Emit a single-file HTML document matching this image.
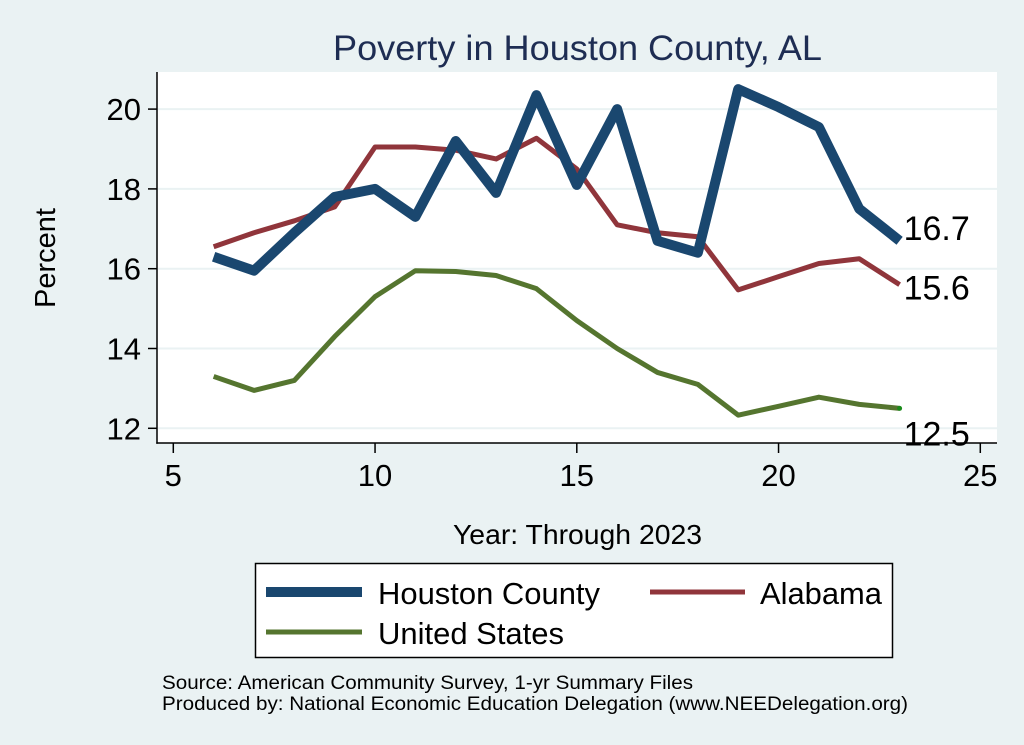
<!DOCTYPE html>
<html><head><meta charset="utf-8"><style>
html,body{margin:0;padding:0;background:#eaf2f3;}
svg{display:block;font-family:"Liberation Sans",Arial,sans-serif;}
</style></head><body>
<svg id="chart" width="1024" height="745" viewBox="0 0 1024 745">
<rect x="0" y="0" width="1024" height="745" fill="#eaf2f3"/>
<text x="333" y="60" font-size="35" fill="#1e2d53" textLength="489" lengthAdjust="spacingAndGlyphs">Poverty in Houston County, AL</text>
<rect x="157" y="72" width="840" height="371" fill="#ffffff"/>
<g id="grid"></g>
<g id="axes"></g>
<g id="series"></g>
<text x="55" y="258" font-size="29" fill="#000" text-anchor="middle" transform="rotate(-90 55 258)">Percent</text>
<text x="453" y="544" font-size="28" fill="#000" textLength="249" lengthAdjust="spacingAndGlyphs">Year: Through 2023</text>
<g>
<rect x="255.5" y="563.5" width="637" height="94" fill="#fff" stroke="#000" stroke-width="1.5"/>
<line x1="266" y1="592" x2="362" y2="592" stroke="#1a476f" stroke-width="10"/>
<text x="378" y="604" font-size="31" textLength="222" lengthAdjust="spacingAndGlyphs">Houston County</text>
<line x1="650" y1="592" x2="745" y2="592" stroke="#90353b" stroke-width="5"/>
<text x="760" y="604" font-size="31" textLength="122" lengthAdjust="spacingAndGlyphs">Alabama</text>
<line x1="266" y1="632" x2="362" y2="632" stroke="#55752f" stroke-width="5"/>
<text x="378" y="644" font-size="31" textLength="186" lengthAdjust="spacingAndGlyphs">United States</text>
</g>
<text x="162" y="689" font-size="19" textLength="531" lengthAdjust="spacingAndGlyphs">Source: American Community Survey, 1-yr Summary Files</text>
<text x="162" y="710" font-size="19" textLength="746" lengthAdjust="spacingAndGlyphs">Produced by: National Economic Education Delegation (www.NEEDelegation.org)</text>
</svg>
<script>
const years=[6,7,8,9,10,11,12,13,14,15,16,17,18,19,20,21,22,23];
const houston=[16.3,15.95,16.9,17.8,18.0,17.3,19.2,17.9,20.35,18.1,20.0,16.7,16.4,20.5,20.05,19.55,17.5,16.7];
const alabama=[16.55,16.9,17.2,17.55,19.05,19.05,18.97,18.75,19.27,18.5,17.1,16.9,16.8,15.47,15.8,16.13,16.25,15.6];
const us=[13.3,12.95,13.2,14.3,15.3,15.95,15.93,15.83,15.5,14.7,14.0,13.4,13.1,12.33,12.55,12.78,12.6,12.5];
const xTicks=[5,10,15,20,25];
const yTicks=[12,14,16,18,20];
const endLabels=["16.7","15.6","12.5"];
const NS="http://www.w3.org/2000/svg";
function X(v){return 173.3+(v-5)*40.35;}
function Y(v){return 428.3-(v-12)*39.9;}
function mk(tag,attrs,parent){const e=document.createElementNS(NS,tag);for(const k in attrs)e.setAttribute(k,attrs[k]);parent.appendChild(e);return e;}
const grid=document.getElementById('grid'),axes=document.getElementById('axes'),ser=document.getElementById('series');
yTicks.forEach(t=>{
 const g=mk('line',{x1:158,x2:997,y1:Y(t),y2:Y(t),stroke:'#eaf2f3','stroke-width':2},grid);
 
 
 const tk=mk('line',{x1:148,x2:157,y1:Y(t),y2:Y(t),stroke:'#000','stroke-width':1.5},axes);
 
 
 const tx=mk('text',{x:141,y:Y(t)+11,'font-size':31,'text-anchor':'end'},axes);
 tx.textContent=t;
 
 
});
xTicks.forEach(t=>{
 const tk=mk('line',{x1:X(t),x2:X(t),y1:443,y2:453,stroke:'#000','stroke-width':1.5},axes);
 
 
 const tx=mk('text',{x:X(t),y:486,'font-size':31,'text-anchor':'middle'},axes);
 tx.textContent=t;
 
 
});
const yl=mk('line',{x1:157,x2:157,y1:72,y2:443.7,stroke:'#000','stroke-width':1.5},axes);


const xl=mk('line',{x1:156.3,x2:997,y1:443,y2:443,stroke:'#000','stroke-width':1.5},axes);


const specs=[[us,'#55752f',5,'line-united-states'],[alabama,'#90353b',5,'line-alabama'],[houston,'#1a476f',10,'line-houston-county']];
specs.forEach(s=>{
 const p=mk('polyline',{points:years.map((y,i)=>X(y)+','+Y(s[0][i])).join(' '),fill:'none',stroke:s[1],'stroke-width':s[2],'stroke-linejoin':'round'},ser);
 
 
});
const d=mk('circle',{cx:X(23),cy:Y(us[us.length-1]),r:2.5,fill:'#1a8a1a'},ser);


[[houston,endLabels[0]],[alabama,endLabels[1]],[us,endLabels[2]]].forEach((s,i)=>{
 const last=s[0][s[0].length-1];
 const ty=i===2?Y(last)+37:Y(last)+(i===0?-1:15);
 const t=mk('text',{x:X(23)+4,y:ty,'font-size':34},ser);
 t.textContent=s[1];
 
 
});
</script>
</body></html>
